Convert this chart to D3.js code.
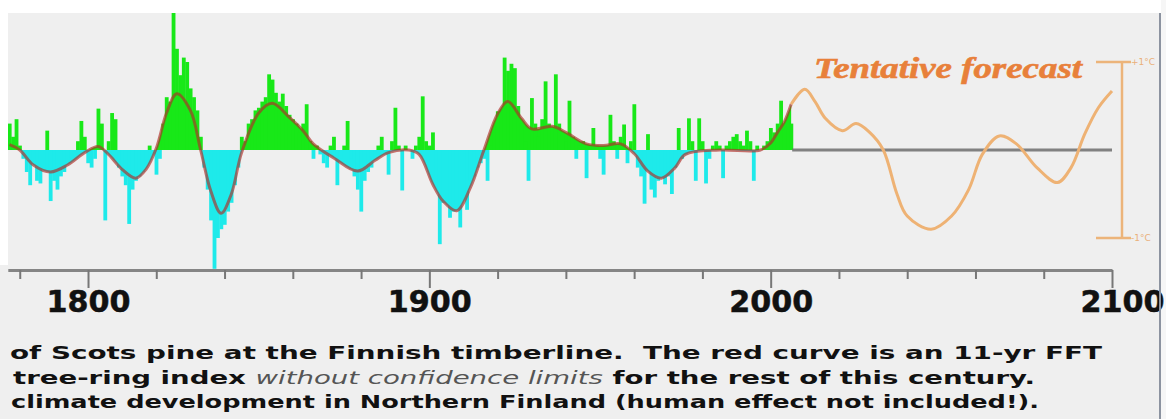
<!DOCTYPE html>
<html>
<head>
<meta charset="utf-8">
<script src="https://cdn.jsdelivr.net/npm/d3@7"></script>
<style>
  body { margin: 0; background: #efefef; }
  svg { display: block; }
</style>
</head>
<body>
<div id="chart"></div>
<script>
// yearly tree-ring index (deviation), 1777 - 2006
const firstYear = 1777;
const ringIndex = [
  0.30, 0.15, 0.35,
  0.05, -0.10, -0.25, -0.40, -0.15, -0.35, -0.38, -0.20, 0.22, -0.58,
  -0.35, -0.45, -0.30, -0.25, -0.15, -0.10, -0.05, 0.10, 0.33, 0.15,
  -0.15, -0.20, -0.10, 0.47, 0.30, -0.80, 0.10, 0.42, 0.35, -0.20,
  -0.30, -0.40, -0.84, -0.45, -0.35, -0.30, -0.25, -0.15, 0.05, -0.05,
  -0.28, -0.10, 0.30, 0.60, 0.55, 1.60, 1.15, 0.85, 1.05, 1.00,
  0.70, 0.60, 0.45, 0.15, -0.20, -0.45, -0.80, -1.35, -1.00, -0.90,
  -0.85, -0.70, -0.60, -0.40, -0.20, 0.15, 0.10, 0.30, 0.35, 0.45,
  0.48, 0.55, 0.60, 0.86, 0.80, 0.65, 0.55, 0.64, 0.50, 0.40,
  0.35, 0.30, 0.20, 0.30, 0.52, 0.10, -0.10, 0.05, -0.05, -0.15,
  -0.20, 0.05, 0.15, -0.40, -0.10, 0.05, 0.33, -0.10, -0.30, -0.45,
  -0.70, -0.35, -0.25, -0.20, -0.05, 0.05, 0.15, -0.05, -0.28, 0.10,
  0.48, 0.05, -0.46, 0.05, 0.00, -0.10, 0.05, 0.15, 0.61, 0.10,
  0.05, 0.20, -0.30, -1.07, -0.60, -0.50, -0.77, -0.70, -0.65, -0.88,
  -0.55, -0.68, -0.35, -0.30, -0.20, -0.15, -0.10, -0.35, 0.05, 0.20,
  0.44, 0.45, 1.05, 0.90, 0.98, 0.93, 0.50, 0.30, 0.10, -0.35,
  0.59, 0.30, 0.15, 0.35, 0.78, 0.30, 0.25, 0.86, 0.30, 0.20,
  0.10, 0.56, 0.15, -0.10, 0.05, 0.10, -0.32, 0.05, 0.25, 0.05,
  -0.10, -0.28, 0.00, 0.40, 0.10, -0.10, 0.15, 0.29, -0.15, 0.10,
  0.52, -0.20, -0.30, -0.61, 0.18, -0.45, -0.54, -0.35, -0.25, -0.39,
  -0.30, -0.50, -0.20, 0.25, -0.10, -0.05, 0.36, 0.10, -0.35, 0.36,
  0.10, -0.38, -0.10, 0.05, 0.10, 0.05, -0.32, 0.05, 0.10, 0.15,
  0.18, 0.10, 0.05, 0.22, 0.10, -0.35, 0.05, 0.00, 0.05, 0.10,
  0.25, 0.20, 0.30, 0.56, 0.30, 0.35, 0.30
];

// 11-yr FFT smoothed curve (read at turning points)
const smoothYears = [1777, 1780, 1784, 1789, 1794, 1799, 1803, 1806, 1810, 1814,
  1817, 1820, 1823, 1826, 1830, 1833, 1836, 1839, 1842, 1845,
  1850, 1854, 1859, 1863, 1866, 1872, 1879, 1884, 1888, 1894,
  1897, 1901, 1904, 1908, 1912, 1916, 1920, 1923, 1927, 1930,
  1936, 1940, 1946, 1951, 1956, 1960, 1964, 1968, 1972, 1975,
  1985, 1997, 2000, 2002, 2004, 2006];
const smoothValues = [0.06, 0.00, -0.17, -0.25, -0.17, -0.03, 0.04, -0.05, -0.22, -0.32,
  -0.22, 0.02, 0.42, 0.64, 0.45, 0.00, -0.47, -0.72, -0.50, -0.03,
  0.42, 0.53, 0.37, 0.22, 0.07, -0.09, -0.24, -0.12, -0.03, 0.00,
  -0.05, -0.39, -0.58, -0.69, -0.43, 0.00, 0.41, 0.55, 0.36, 0.24,
  0.27, 0.20, 0.07, 0.05, 0.07, -0.04, -0.24, -0.32, -0.20, -0.05,
  0.00, 0.00, 0.08, 0.20, 0.32, 0.52];

// tentative forecast to 2100
const forecastYears = [2006, 2010, 2013, 2016, 2021, 2025, 2029, 2033, 2037, 2040,
  2047, 2053, 2058, 2062, 2067, 2072, 2078, 2084, 2088, 2092, 2096, 2100];
const forecastValues = [0.52, 0.69, 0.55, 0.36, 0.22, 0.30, 0.20, 0.00, -0.50, -0.75,
  -0.90, -0.75, -0.45, -0.05, 0.16, 0.07, -0.20, -0.37, -0.20, 0.18, 0.48, 0.67];

const tickYears = d3.range(1780, 2101, 20);
const majorYears = [1800, 1900, 2000, 2100];
const scaleLabels = ["+1°C", "-1°C"];

const captionLines = [
  [{ t: "of Scots pine at the Finnish timberline.  The red curve is an 11-yr FFT" }],
  [{ t: "tree-ring index " }, { t: "without confidence limits", it: true }, { t: " for the rest of this century." }],
  [{ t: "climate development in Northern Finland (human effect not included!)." }]
];

const W = 1166, H = 419;
const svg = d3.select("#chart").append("svg")
  .attr("width", W).attr("height", H);

// backgrounds
svg.append("rect").attr("width", W).attr("height", H).attr("fill", "#efefef");
svg.append("rect").attr("width", W).attr("height", 13).attr("fill", "#ffffff");
svg.append("rect").attr("width", 8).attr("height", 265).attr("fill", "#ffffff");
svg.append("rect").attr("x", 1161).attr("width", 5).attr("height", H).attr("fill", "#f6f6f6");

const x = d3.scaleLinear().domain([1776.5, 2100]).range([7.8, 1112]);
const y = d3.scaleLinear().domain([-1, 1]).range([238, 62]);
const y0 = y(0);

svg.append("clipPath").attr("id", "plot")
  .append("rect").attr("x", 8).attr("y", 13).attr("width", 1152).attr("height", 256);
svg.append("clipPath").attr("id", "above")
  .append("rect").attr("x", 8).attr("y", 13).attr("width", 1152).attr("height", y0 - 13);
svg.append("clipPath").attr("id", "below")
  .append("rect").attr("x", 8).attr("y", y0).attr("width", 1152).attr("height", 269 - y0);

const green = "#18e818", cyan = "#1eeaea";

const smooth = smoothYears.map((yr, i) => ({ year: yr, value: smoothValues[i] }));
const forecast = forecastYears.map((yr, i) => ({ year: yr, value: forecastValues[i] }));
const rings = ringIndex.map((v, i) => ({ year: firstYear + i, value: v }));

const plot = svg.append("g").attr("clip-path", "url(#plot)");

// fill between zero and smoothed curve
const area = d3.area()
  .x(d => x(d.year)).y0(y0).y1(d => y(d.value))
  .curve(d3.curveCatmullRom.alpha(0.5));
plot.append("path").datum(smooth).attr("d", area)
  .attr("fill", green).attr("clip-path", "url(#above)");
plot.append("path").datum(smooth).attr("d", area)
  .attr("fill", cyan).attr("clip-path", "url(#below)");

// yearly bars
const bw = x(1) - x(0);
plot.append("g").selectAll("rect")
  .data(rings)
  .enter()
  .append("rect")
  .attr("x", d => x(d.year) - bw / 2)
  .attr("width", bw + 0.4)
  .attr("y", d => Math.min(y(d.value), y0))
  .attr("height", d => Math.abs(y(d.value) - y0))
  .attr("fill", d => d.value >= 0 ? green : cyan);

// smoothed curve
const line = d3.line()
  .x(d => x(d.year)).y(d => y(d.value))
  .curve(d3.curveCatmullRom.alpha(0.5));
plot.append("path").datum(smooth).attr("d", line)
  .attr("fill", "none").attr("stroke", "rgba(175,45,40,0.66)").attr("stroke-width", 3);

// zero line for forecast part
svg.append("line")
  .attr("x1", x(2006.3)).attr("x2", x(2100))
  .attr("y1", y0).attr("y2", y0)
  .attr("stroke", "#6e6e6e").attr("stroke-width", 3).attr("opacity", 0.85);

// forecast curve
svg.append("path").datum(forecast).attr("d", line)
  .attr("fill", "none").attr("stroke", "#eeb274").attr("stroke-width", 3);

// +/- 1 degree scale bar
const sb = svg.append("g").attr("stroke", "#ecb47a").attr("stroke-width", 2.5);
sb.append("line").attr("x1", 1122).attr("x2", 1122).attr("y1", y(1)).attr("y2", y(-1));
sb.append("line").attr("x1", 1096).attr("x2", 1131).attr("y1", y(1)).attr("y2", y(1));
sb.append("line").attr("x1", 1096).attr("x2", 1131).attr("y1", y(-1)).attr("y2", y(-1));
svg.selectAll(".sblabel")
  .data(scaleLabels)
  .enter()
  .append("text")
  .attr("x", 1131).attr("y", (d, i) => y(i === 0 ? 1 : -1) + 3)
  .attr("font-family", "DejaVu Sans").attr("font-size", 9)
  .attr("fill", "#eab07a")
  .text(d => d);

svg.append("text")
  .attr("x", 814).attr("y", 78)
  .attr("font-family", "Liberation Serif").attr("font-weight", "bold")
  .attr("font-style", "italic").attr("font-size", 29)
  .attr("fill", "#e8803a").attr("stroke", "#e8803a").attr("stroke-width", 0.6)
  .attr("textLength", 268).attr("lengthAdjust", "spacingAndGlyphs")
  .text("Tentative forecast");

// axis
const axis = svg.append("g")
  .attr("transform", "translate(0,270)")
  .call(d3.axisBottom(x).tickValues(tickYears).tickSizeOuter(0)
    .tickFormat(d => majorYears.includes(d) ? d : ""));
axis.select(".domain").attr("stroke", "#858585").attr("stroke-width", 3);
axis.selectAll(".tick line")
  .attr("stroke", "#777").attr("stroke-width", 2)
  .attr("y2", d => majorYears.includes(d) ? 18 : 9);
axis.selectAll(".tick text")
  .attr("y", 42).attr("dy", 0)
  .attr("x", d => d === 2100 ? 10 : 0)
  .attr("font-family", "DejaVu Sans").attr("font-weight", "bold")
  .attr("font-size", 30).attr("fill", "#111")
  .attr("stroke", "#111").attr("stroke-width", 0.5)
  .attr("textLength", d => majorYears.includes(d) ? 84 : null)
  .attr("lengthAdjust", "spacingAndGlyphs");

// right border
svg.append("line")
  .attr("x1", 1160).attr("x2", 1160).attr("y1", 13).attr("y2", H)
  .attr("stroke", "#8c93a0").attr("stroke-width", 2);

// caption
const capLen = [1092, 1022, 1028];
const capX = [10, 13, 11];
captionLines.forEach((parts, i) => {
  const t = svg.append("text")
    .attr("x", capX[i]).attr("y", 359 + i * 24.5)
    .attr("font-family", "DejaVu Sans").attr("font-weight", "bold")
    .attr("font-size", 18).attr("fill", "#111")
    .attr("textLength", capLen[i]).attr("lengthAdjust", "spacingAndGlyphs")
    .style("white-space", "pre");
  parts.forEach(p => {
    const s = t.append("tspan").text(p.t);
    if (p.it) s.attr("font-style", "italic").attr("font-weight", "normal").attr("fill", "#555");
  });
});
</script>
</body>
</html>
